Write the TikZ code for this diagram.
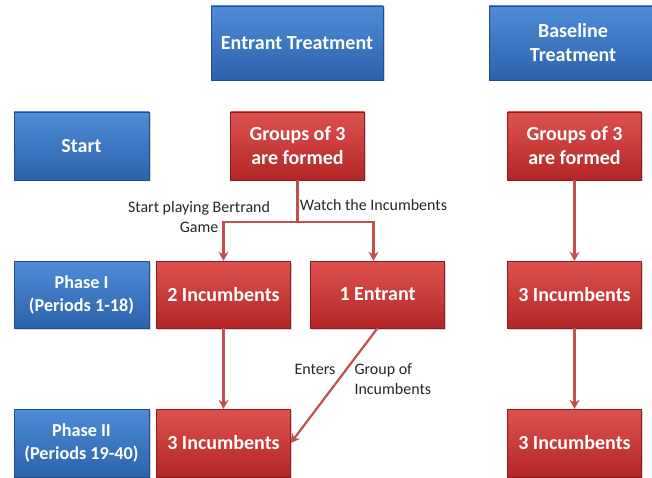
\documentclass[tikz,border=0pt]{standalone}
\usepackage{fontspec}
\setmainfont{Carlito}
\usetikzlibrary{arrows.meta, positioning, shadows}
\definecolor{bluetop}{RGB}{78,140,215}
\definecolor{bluebot}{RGB}{44,98,172}
\definecolor{redtop}{RGB}{222,82,78}
\definecolor{redbot}{RGB}{178,38,38}
\definecolor{arrowred}{RGB}{192,80,77}

\begin{document}
\begin{tikzpicture}[x=1pt, y=-1pt,
    box/.style={minimum height=68pt, inner sep=2pt, align=center, text=white,
      font=\bfseries\fontsize{20}{24}\selectfont,
      drop shadow={shadow xshift=1.5pt, shadow yshift=-1.5pt, opacity=0.35}},
    bluebox/.style={box, draw=bluebot!80!black, top color=bluetop, bottom color=bluebot},
    phasebox/.style={bluebox, minimum width=135pt, font=\bfseries\fontsize{18.2}{23}\selectfont},
    redbox/.style={box, draw=redbot!80!black, top color=redtop, bottom color=redbot, minimum width=134pt},
    flow/.style={arrowred, line width=2.2pt, -{Stealth[length=9pt, width=10pt, inset=3pt]}},
    lbl/.style={font=\fontsize{16}{20}\selectfont, text=black!85}]
  \useasboundingbox (0,0) rectangle (652,478);

  % treatments
  \node[bluebox, minimum width=172pt, minimum height=74pt] (entrant) at (297,43) {Entrant Treatment};
  \node[bluebox, minimum width=168pt, minimum height=74pt] (baseline) at (573,43) {Baseline\\Treatment};

  % left column
  \node[bluebox, minimum width=135pt] (start) at (81.5,146) {Start};
  \node[phasebox, minimum height=67pt] (phaseone) at (81.5,294.5) {Phase I\\(Periods 1-18)};
  \node[phasebox] (phasetwo) at (81.5,443) {Phase II\\(Periods 19-40)};

  % entrant treatment
  \node[redbox] (groups) at (297.5,146) {Groups of 3\\are formed};
  \node[redbox, minimum height=67pt] (twoinc) at (223.5,294.5) {2 Incumbents};
  \node[redbox, minimum height=67pt] (oneent) at (377.5,294.5) {1 Entrant};
  \node[redbox] (threeinc) at (223.5,443) {3 Incumbents};

  % baseline treatment
  \node[redbox] (bgroups) at (574.5,146) {Groups of 3\\are formed};
  \node[redbox, minimum height=67pt] (binc) at (574.5,294.5) {3 Incumbents};
  \node[redbox] (binctwo) at (574.5,443) {3 Incumbents};

  \coordinate (split) at (297.5,222);
  \draw[arrowred, line width=2.2pt] (groups.south) -- (split);
  \draw[flow] (split) -| (twoinc.north);
  \draw[flow] (split) -| ([xshift=-4pt]oneent.north);
  \draw[flow] (twoinc.south) -- (threeinc.north);
  \draw[flow] (oneent.south) -- (threeinc.east);
  \draw[flow] (bgroups.south) -- (binc.north);
  \draw[flow] (binc.south) -- (binctwo.north);

  \node[lbl, align=center] (play) at (199,217) {Start playing Bertrand\\Game};
  \node[lbl] (watch) at (373.5,205) {Watch the Incumbents};
  \node[lbl] (enters) at (315,369) {Enters};
  \node[lbl, align=left, anchor=west] (groupof) at (351,379) {Group of\\Incumbents};
\end{tikzpicture}
\end{document}
